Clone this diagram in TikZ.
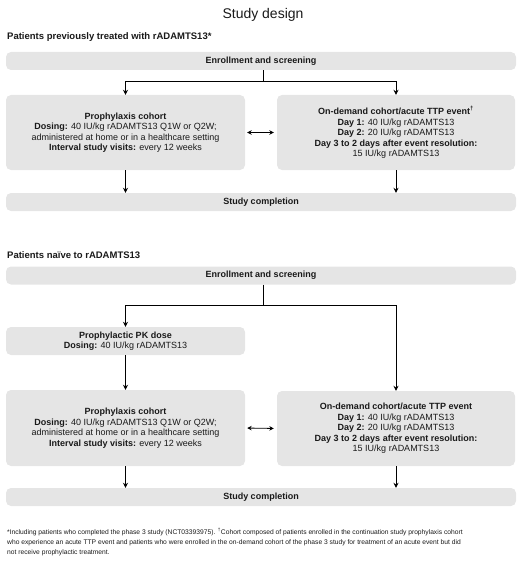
\documentclass[tikz,border=0pt]{standalone}
\usepackage{fontspec}
\setmainfont{Liberation Sans}
\usetikzlibrary{arrows.meta}
\definecolor{boxgray}{RGB}{229,229,229}
\definecolor{txt}{RGB}{25,25,25}
\tikzset{
  box/.style={fill=boxgray, rounded corners=5pt, inner sep=0pt, align=center, text=txt,
    font=\fontsize{9}{10.5}\selectfont},
  bar/.style={box, minimum width=510pt, minimum height=18pt},
  conn/.style={line width=1pt, -{Stealth[length=5pt,width=5pt]}},
  plain/.style={line width=1pt},
  dbl/.style={line width=0.8pt, {Stealth[length=4.5pt,width=4.5pt]}-{Stealth[length=4.5pt,width=4.5pt]}, shorten <=2pt, shorten >=3pt},
  heading/.style={anchor=west, inner sep=0pt, text=txt, font=\fontsize{9.5}{11}\selectfont\bfseries},
}
\begin{document}
\begin{tikzpicture}[x=1pt,y=-1pt]
\useasboundingbox (0,0) rectangle (520,567);
\node[inner sep=0pt, text=txt, font=\fontsize{14}{16}\selectfont] (title) at (263,15) {Study design};

% Section 1
\node[heading] (h1) at (7,37) {Patients previously treated with rADAMTS13*};
\node[bar] (e1) at (261,61) {\textbf{Enrollment and screening}};
\node[box, minimum width=239pt, minimum height=75pt] (p1) at (125.5,132.5) {\textbf{Prophylaxis cohort}\\ \textbf{Dosing:} 40 IU/kg rADAMTS13 Q1W or Q2W;\\ administered at home or in a healthcare setting\\ \textbf{Interval study visits:} every 12 weeks};
\node[box, minimum width=238pt, minimum height=75pt] (o1) at (396,132.5) {\textbf{On-demand cohort/acute TTP event\textsuperscript{†}}\\ \textbf{Day 1:} 40 IU/kg rADAMTS13\\ \textbf{Day 2:} 20 IU/kg rADAMTS13\\ \textbf{Day 3 to 2 days after event resolution:}\\ 15 IU/kg rADAMTS13};
\node[bar] (c1) at (261,202) {\textbf{Study completion}};
\coordinate (j1) at (263,82);
\draw[plain] (e1.south -| j1) -- (j1);
\draw[conn] (j1) -| (p1.north);
\draw[conn] (j1) -| (o1.north);
\draw[dbl] (p1.east) -- (o1.west);
\draw[conn] (p1.south) -- (p1.south |- c1.north);
\draw[conn] (o1.south) -- (o1.south |- c1.north);

% Section 2
\node[heading] (h2) at (7,255) {Patients naïve to rADAMTS13};
\node[bar] (e2) at (261,275.5) {\textbf{Enrollment and screening}};
\node[box, minimum width=239pt, minimum height=28pt] (pk) at (125.5,341) {\textbf{Prophylactic PK dose}\\ \textbf{Dosing:} 40 IU/kg rADAMTS13};
\node[box, minimum width=239pt, minimum height=76pt] (p2) at (125.5,428) {\textbf{Prophylaxis cohort}\\ \textbf{Dosing:} 40 IU/kg rADAMTS13 Q1W or Q2W;\\ administered at home or in a healthcare setting\\ \textbf{Interval study visits:} every 12 weeks};
\node[box, minimum width=238pt, minimum height=75pt] (o2) at (396,428.5) {\textbf{On-demand cohort/acute TTP event}\\ \textbf{Day 1:} 40 IU/kg rADAMTS13\\ \textbf{Day 2:} 20 IU/kg rADAMTS13\\ \textbf{Day 3 to 2 days after event resolution:}\\ 15 IU/kg rADAMTS13};
\node[bar] (c2) at (261,497) {\textbf{Study completion}};
\coordinate (j2) at (263,305);
\draw[plain] (e2.south -| j2) -- (j2);
\draw[conn] (j2) -| (pk.north);
\draw[conn] (j2) -| (o2.north);
\draw[conn] (pk.south) -- (p2.north);
\draw[dbl] (p2.east) -- (o2.west);
\draw[conn] (p2.south) -- (p2.south |- c2.north);
\draw[conn] (o2.south) -- (o2.south |- c2.north);

% Footnote
\node[anchor=north west, inner sep=0pt, align=left, text=txt, font=\fontsize{6.7}{10}\selectfont] (fn) at (7,528) {*Including patients who completed the phase 3 study (NCT03393975). \textsuperscript{†}Cohort composed of patients enrolled in the continuation study prophylaxis cohort\\ who experience an acute TTP event and patients who were enrolled in the on-demand cohort of the phase 3 study for treatment of an acute event but did\\ not receive prophylactic treatment.};
\end{tikzpicture}
\end{document}
